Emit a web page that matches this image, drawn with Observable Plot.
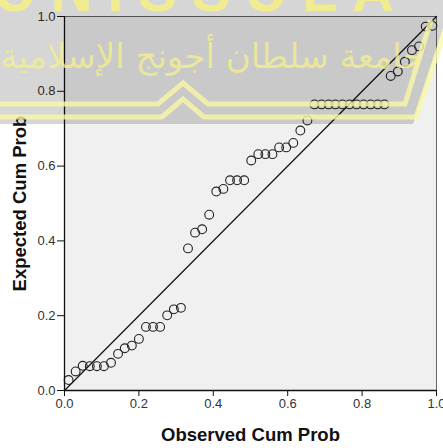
<!DOCTYPE html>
<html>
<head>
<meta charset="utf-8">
<script src="https://cdn.jsdelivr.net/npm/d3@7"></script>
<script src="https://cdn.jsdelivr.net/npm/@observablehq/plot@0.6"></script>
<style>
  html, body { margin: 0; padding: 0; background: #fff; }
  #wrap { position: relative; width: 443px; height: 448px; overflow: hidden; }
  #wrap svg.plot text { font-family: "Liberation Sans", Arial, sans-serif; }
  g[aria-label="x-axis label"] text, g[aria-label="y-axis label"] text { font-weight: bold; font-size: 18.5px; fill: #111; }
  #wm { position: absolute; left: 0; top: 0; pointer-events: none; }
</style>
</head>
<body>
<div id="wrap"></div>
<script>
// Observed cumulative probability (x)
const observed = [0.011, 0.030, 0.049, 0.068, 0.087, 0.106, 0.125, 0.144, 0.162, 0.181, 0.200,
  0.219, 0.238, 0.257, 0.276, 0.294, 0.313, 0.332, 0.351, 0.370, 0.389, 0.408, 0.427, 0.445,
  0.464, 0.483, 0.502, 0.521, 0.540, 0.559, 0.577, 0.596, 0.615, 0.634, 0.653, 0.672, 0.691,
  0.710, 0.728, 0.747, 0.766, 0.785, 0.804, 0.823, 0.842, 0.860, 0.877, 0.896, 0.915, 0.934,
  0.953, 0.971, 0.989];
// Expected cumulative probability (y)
const expected = [0.028, 0.051, 0.066, 0.065, 0.065, 0.065, 0.074, 0.098, 0.113, 0.120, 0.138,
  0.170, 0.170, 0.170, 0.201, 0.217, 0.221, 0.380, 0.422, 0.431, 0.470, 0.532, 0.539, 0.562,
  0.562, 0.562, 0.615, 0.632, 0.632, 0.632, 0.650, 0.650, 0.662, 0.695, 0.722, 0.765, 0.765,
  0.765, 0.765, 0.765, 0.765, 0.765, 0.765, 0.765, 0.765, 0.765, 0.841, 0.853, 0.879, 0.910,
  0.920, 0.973, 0.975];
const tickValues = [0, 0.2, 0.4, 0.6, 0.8, 1.0];
const refLine = [[0, 0], [1, 1]];
const xLabel = "Observed Cum Prob";
const yLabel = "Expected Cum Prob";

const points = observed.map((x, i) => ({x, y: expected[i]}));

const chart = Plot.plot({
  width: 443,
  height: 448,
  marginLeft: 64,
  marginRight: 7,
  marginTop: 16,
  marginBottom: 58,
  style: {fontSize: "13px", fontFamily: "Liberation Sans, Arial, sans-serif", color: "#222", background: "#fff"},
  x: {domain: [0, 1]},
  y: {domain: [0, 1]},
  marks: [
    Plot.frame({fill: "#f0f0f0", stroke: "#666", strokeWidth: 1}),
    Plot.line(refLine, {x: d => d[0], y: d => d[1], stroke: "#111", strokeWidth: 1.2}),
    Plot.dot(points, {x: "x", y: "y", r: 4.4, stroke: "#222", strokeWidth: 1.1, fill: "none"}),
    Plot.axisX({ticks: tickValues, tickFormat: d3.format(".1f"), tickSize: 6, tickPadding: 2,
      stroke: "#111", fill: "#333",
      label: xLabel, labelAnchor: "center", labelArrow: "none", labelOffset: 50}),
    Plot.axisY({ticks: tickValues, tickFormat: d3.format(".1f"), tickSize: 7, tickPadding: 2,
      stroke: "#111", fill: "#333",
      label: yLabel, labelAnchor: "center", labelArrow: "none", labelOffset: 52}),
    Plot.ruleX([0], {stroke: "#111", strokeWidth: 1.3}),
    Plot.ruleY([0], {stroke: "#111", strokeWidth: 1.3})
  ]
});
chart.classList.add("plot");
document.getElementById("wrap").appendChild(chart);

// watermark overlay (decoration over the picture)
const ns = "http://www.w3.org/2000/svg";
const wm = document.createElementNS(ns, "svg");
wm.setAttribute("id", "wm");
wm.setAttribute("width", 443);
wm.setAttribute("height", 448);
wm.innerHTML = `
  <polygon points="0,0 443,0 443,28 413,124 0,124" fill="rgba(0,0,0,0.16)"/>
  <polyline points="-5,104 158,104 183,83 208,104 405,104 431,20" fill="none" stroke="rgba(250,248,165,0.8)" stroke-width="5"/>
  <polyline points="-5,117 162,117 183,99 204,117 416,117 445,30" fill="none" stroke="rgba(250,248,165,0.8)" stroke-width="5"/>
  <text x="-6" y="11" textLength="400" lengthAdjust="spacing" font-family="Liberation Sans, Arial" font-weight="bold" font-size="58" fill="rgba(245,240,130,0.85)">UNISSULA</text>
  <text x="212" y="68" text-anchor="middle" direction="rtl" font-family="DejaVu Sans" font-size="34" fill="rgba(245,240,140,0.75)">جامعة سلطان أجونج الإسلامية</text>
`;
document.getElementById("wrap").appendChild(wm);
</script>
</body>
</html>
